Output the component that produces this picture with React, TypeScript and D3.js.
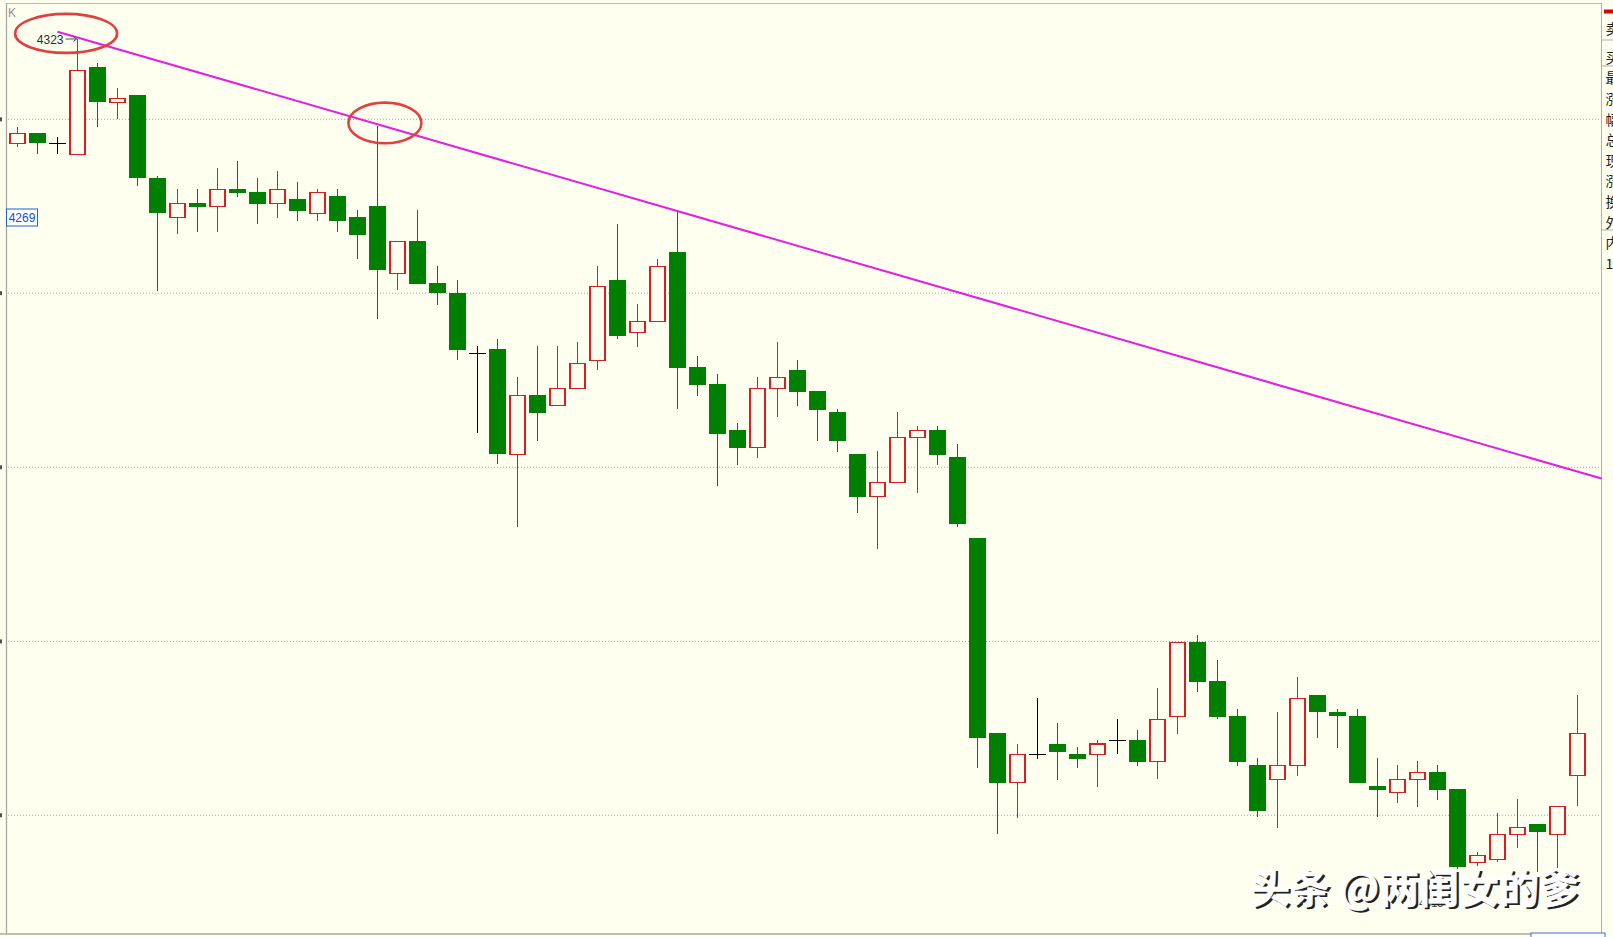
import React from 'react';
import * as d3 from 'd3';

// ---- data (K-line, daily) ----
const opens = [
  4285.9, 4289.4, 4285.9, 4282.0, 4313.0, 4300.5, 4303.1, 4273.4, 4259.5, 4264.6,
  4263.3, 4269.5, 4268.5, 4264.4, 4266.0, 4260.9, 4267.1, 4259.5, 4263.4, 4239.6,
  4251.0, 4236.1, 4232.6, 4211.1, 4212.5, 4175.1, 4196.1, 4192.6, 4198.6, 4208.6,
  4237.1, 4218.6, 4222.5, 4247.1, 4206.2, 4200.2, 4183.8, 4177.6, 4198.6, 4205.0,
  4197.6, 4190.1, 4175.1, 4160.2, 4165.0, 4181.2, 4183.8, 4174.1, 4145.2, 4075.8,
  4058.2, 4068.3, 4072.0, 4068.3, 4068.3, 4073.3, 4073.3, 4065.8, 4081.8, 4108.2,
  4094.3, 4081.8, 4064.5, 4059.4, 4064.4, 4089.4, 4083.4, 4081.9, 4057.1, 4054.6,
  4059.4, 4061.9, 4055.8, 4029.8, 4030.9, 4039.8, 4043.5, 4039.8, 4060.8,
];
const highs = [
  4291.8, 4289.4, 4288.2, 4323.0, 4314.6, 4305.4, 4303.1, 4274.3, 4269.5, 4269.5,
  4277.1, 4279.6, 4273.6, 4276.0, 4272.0, 4269.7, 4269.5, 4262.1, 4292.1, 4251.0,
  4262.1, 4242.3, 4237.1, 4213.7, 4216.1, 4202.5, 4213.7, 4213.7, 4215.1, 4242.2,
  4257.1, 4228.6, 4244.7, 4262.1, 4210.1, 4203.7, 4186.3, 4202.5, 4215.0, 4208.6,
  4197.6, 4191.2, 4175.1, 4176.3, 4190.2, 4185.1, 4185.1, 4178.7, 4145.2, 4075.8,
  4072.0, 4088.2, 4079.5, 4070.8, 4073.4, 4080.8, 4077.0, 4091.8, 4108.2, 4110.8,
  4101.9, 4084.4, 4066.9, 4083.4, 4095.7, 4089.4, 4084.3, 4084.3, 4066.9, 4064.4,
  4065.8, 4064.4, 4055.8, 4033.5, 4047.3, 4052.3, 4043.5, 4049.8, 4089.4,
];
const lows = [
  4284.4, 4282.0, 4282.0, 4282.0, 4291.8, 4294.4, 4270.8, 4233.4, 4253.5, 4254.4,
  4254.4, 4266.8, 4257.0, 4259.4, 4258.3, 4258.3, 4254.4, 4244.6, 4223.4, 4233.5,
  4235.9, 4228.4, 4208.6, 4182.6, 4171.6, 4149.1, 4179.9, 4192.6, 4198.6, 4205.0,
  4216.1, 4213.4, 4222.5, 4191.2, 4196.0, 4163.9, 4171.4, 4173.9, 4188.5, 4192.4,
  4180.0, 4176.1, 4154.1, 4141.4, 4165.0, 4161.5, 4171.4, 4149.1, 4063.3, 4039.8,
  4045.7, 4066.7, 4059.3, 4063.3, 4056.8, 4068.3, 4064.2, 4059.4, 4075.6, 4090.6,
  4080.8, 4064.2, 4045.9, 4042.2, 4060.7, 4074.2, 4070.7, 4058.2, 4045.9, 4050.9,
  4049.6, 4052.0, 4027.4, 4028.5, 4029.8, 4034.8, 4026.5, 4027.8, 4049.8,
];
const closes = [
  4289.4, 4285.9, 4285.9, 4311.9, 4300.5, 4301.9, 4273.4, 4260.9, 4264.5, 4263.3,
  4269.5, 4268.3, 4264.4, 4269.5, 4261.9, 4268.4, 4258.3, 4253.3, 4240.9, 4251.0,
  4235.9, 4232.5, 4212.4, 4211.1, 4175.1, 4196.1, 4189.9, 4198.6, 4207.5, 4234.9,
  4217.4, 4222.5, 4242.1, 4206.0, 4199.9, 4182.5, 4177.5, 4198.6, 4202.5, 4197.4,
  4191.0, 4180.0, 4160.0, 4165.2, 4181.2, 4183.7, 4175.0, 4150.2, 4074.2, 4058.2,
  4068.3, 4068.3, 4069.2, 4066.7, 4072.0, 4073.3, 4065.7, 4080.8, 4108.2, 4094.2,
  4081.7, 4065.7, 4048.2, 4064.4, 4088.2, 4083.3, 4081.8, 4058.2, 4055.7, 4059.4,
  4061.9, 4055.7, 4028.3, 4032.3, 4039.8, 4042.3, 4040.7, 4049.8, 4075.8,
];

const gridPrices = [4294.4, 4232.5, 4170.5, 4108.5, 4046.6];
const priceDomain = [4015, 4323];
const highMark = { index: 3, value: 4323, text: '4323' };
const lowMark = { index: 72, value: 4015, text: '4015' };
const cursorText = '4269';
const trendPoints = [
  { index: 2, price: 4325.6 },
  { index: 79.2, price: 4166.5 },
];
const circleMarks = [
  { index: 2.43, price: 4325.0 },
  { index: 18.37, price: 4293.1 },
];
const sideLabels = ['卖', '买', '最', '涨', '幅', '总', '现', '涨', '换', '外', '内', '1'];
const watermark = '头条 @两闺女的爹';

const W = 1613;
const H = 937;
const BG = '#fffff0';
const GREEN = '#008000';
const RED = '#d42020';

export default function App() {
  const x = d3.scaleLinear().domain([0, opens.length - 1]).range([17.5, 1577.5]);
  const y = d3.scaleLinear().domain(priceDomain).range([904, 39]);
  const trend = d3
    .line<{ index: number; price: number }>()
    .x((d) => x(d.index))
    .y((d) => y(d.price));
  const ellipseSize = [
    { rx: 51, ry: 19.5 },
    { rx: 36.5, ry: 20.3 },
  ];

  const candles = opens.map((o, i) => {
    const c = closes[i];
    const h = highs[i];
    const l = lows[i];
    const cx = x(i);
    if (c > o) {
      const top = y(c);
      const bot = y(o);
      return (
        <g key={i}>
          <line x1={cx} x2={cx} y1={y(h)} y2={top} stroke={RED} strokeWidth={1} />
          <line x1={cx} x2={cx} y1={bot} y2={y(l)} stroke={RED} strokeWidth={1} />
          <rect x={cx - 7.5} y={top} width={15} height={Math.max(1, bot - top)} fill={BG} stroke={RED} strokeWidth={1.2} />
        </g>
      );
    }
    if (c < o) {
      const top = y(o);
      const bot = y(c);
      return (
        <g key={i}>
          <line x1={cx} x2={cx} y1={y(h)} y2={y(l)} stroke={GREEN} strokeWidth={1} />
          <rect x={cx - 8.2} y={top} width={16.4} height={Math.max(1.5, bot - top)} fill={GREEN} />
        </g>
      );
    }
    return (
      <g key={i}>
        <line x1={cx} x2={cx} y1={y(h)} y2={y(l)} stroke="#000" strokeWidth={1} />
        <line x1={cx - 8.2} x2={cx + 8.2} y1={y(o)} y2={y(o)} stroke="#000" strokeWidth={1} />
      </g>
    );
  });

  const sideY = (i: number) => (i < 2 ? 30.3 + i * 28.8 : 79.7 + (i - 2) * 20.6);

  return (
    <svg
      width={W}
      height={H}
      style={{ position: 'absolute', left: 0, top: 0, background: BG, display: 'block' }}
      fontFamily="'Liberation Sans', Arial, sans-serif"
    >
      <rect x={0} y={0} width={W} height={H} fill={BG} />
      {/* frame */}
      <line x1={6.5} x2={6.5} y1={3} y2={934} stroke="#a8a8a0" strokeWidth={1.3} />
      <line x1={6} x2={1601.5} y1={3.5} y2={3.5} stroke="#b8b8b0" strokeWidth={1} />
      <line x1={1601.5} x2={1601.5} y1={3} y2={934} stroke="#b0b0a8" strokeWidth={1} />
      <line x1={0} x2={1601.5} y1={934} y2={934} stroke="#a8a8a0" strokeWidth={1.3} />
      {/* grid */}
      {gridPrices.map((p) => (
        <g key={p}>
          <line x1={8} x2={1601} y1={y(p)} y2={y(p)} stroke="#a8a8a0" strokeWidth={1} strokeDasharray="1,2" />
          <rect x={0} y={y(p) - 2} width={2} height={4} fill="#505050" />
        </g>
      ))}
      <text x={8} y={17} fontSize={12} fill="#909090">K</text>

      {/* candles */}
      <g shapeRendering="crispEdges">{candles}</g>

      {/* trend line */}
      <path d={trend(trendPoints) || ''} stroke="#e41ee4" strokeWidth={2} fill="none" />

      {/* highlight circles */}
      {circleMarks.map((m, i) => (
        <ellipse
          key={i}
          cx={x(m.index)}
          cy={y(m.price)}
          rx={ellipseSize[i].rx}
          ry={ellipseSize[i].ry}
          fill="none"
          stroke="#e04040"
          strokeWidth={2.6}
        />
      ))}

      {/* high label */}
      <text x={x(highMark.index) - 14} y={y(highMark.value) + 1.5} fontSize={12} fill="#203040" textAnchor="end" dominantBaseline="middle">
        {highMark.text}
      </text>
      <line x1={x(highMark.index) - 12} x2={x(highMark.index) - 1} y1={y(highMark.value)} y2={y(highMark.value)} stroke="#405060" strokeWidth={1} />
      <path
        d={`M${x(highMark.index) - 4},${y(highMark.value) - 2.5} L${x(highMark.index) - 1},${y(highMark.value)} L${x(highMark.index) - 4},${y(highMark.value) + 2.5}`}
        stroke="#405060"
        fill="none"
        strokeWidth={1}
      />

      {/* low label */}
      <text x={x(lowMark.index) - 14} y={y(lowMark.value)} fontSize={11} fill="#404040" textAnchor="end" dominantBaseline="middle">
        {lowMark.text}
      </text>

      {/* cursor price box */}
      <rect x={6.5} y={209} width={31} height={17} fill="#fff" stroke="#2060d0" strokeWidth={1} />
      <text x={22} y={219} fontSize={12} fill="#1050d0" textAnchor="middle" dominantBaseline="middle">
        {cursorText}
      </text>

      {/* side panel (cut off) */}
      <rect x={1604} y={9.5} width={10} height={4} fill="#e00000" />
      {[40, 66, 230].map((sy) => (
        <line key={sy} x1={1602} x2={W} y1={sy} y2={sy} stroke="#b0b0a8" strokeWidth={1} />
      ))}
      {sideLabels.map((s, i) => (
        <text key={i} x={1605.5} y={sideY(i)} fontSize={14} fill="#202020" dominantBaseline="middle" fontFamily="'Noto Sans CJK SC', sans-serif">
          {s}
        </text>
      ))}
      <rect x={1531} y={933} width={74} height={10} fill="#fff" stroke="#3070d0" strokeWidth={1} />

      {/* watermark */}
      <g fontFamily="'Noto Sans CJK SC', sans-serif" fontSize={40} fontWeight={700}>
        <text x={1252.5} y={905} fill="#222">{watermark}</text>
        <text x={1250} y={902.5} fill="#fff" stroke="#fff" strokeWidth={0.5}>{watermark}</text>
      </g>
    </svg>
  );
}
